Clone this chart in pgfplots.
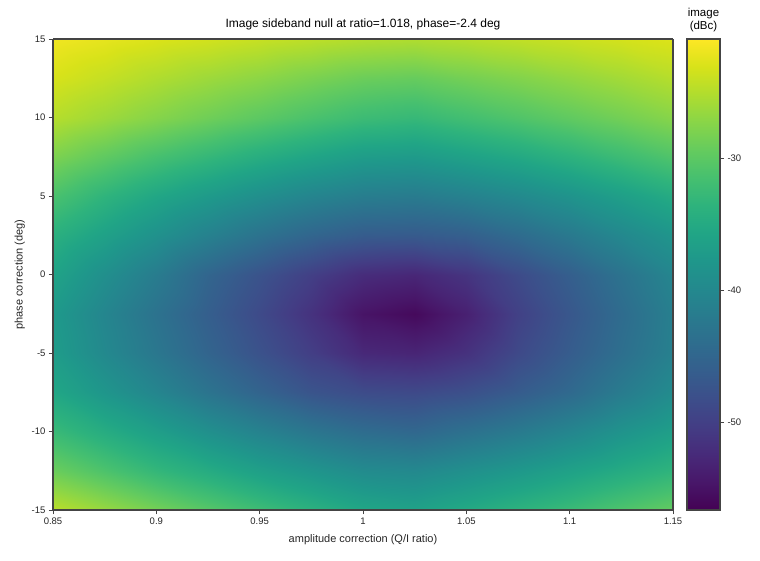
\documentclass[border=0pt]{standalone}
\usepackage{pgfplots}
\pgfplotsset{compat=1.18}
\usepackage{fontspec}
\setmainfont{Liberation Sans}
\definecolor{frame}{HTML}{444444}
\begin{document}
\begin{tikzpicture}[x=1pt,y=1pt]
\path[use as bounding box] (0,0) rectangle (760,560);
\begin{axis}[
    at={(53pt,50pt)}, anchor=south west,
    scale only axis, width=620pt, height=471pt,
    view={0}{90},
    xmin=0.85, xmax=1.15, ymin=-15, ymax=15,
    colormap/viridis,
    point meta min=-56.6, point meta max=-21,
    axis on top,
    axis line style={frame, line width=1.2pt},
    tick align=outside, tick style={frame, line width=0.8pt},
    major tick length=4pt,
    xtick pos=bottom, ytick pos=left,
    xtick={0.85,0.9,0.95,1,1.05,1.1,1.15},
    xticklabels={0.85,0.9,0.95,1,1.05,1.1,1.15},
    ytick={-15,-10,-5,0,5,10,15},
    yticklabels={-15,-10,-5,0,5,10,15},
    tick label style={font=\fontsize{9.5}{11}\selectfont, text=black!85},
    xlabel={amplitude correction (Q/I ratio)},
    xlabel style={yshift=-3.5pt},
    ylabel={phase correction (deg)},
    label style={font=\fontsize{11}{13}\selectfont, text=black!85},
    title={Image sideband null at ratio=1.018, phase=-2.4 deg},
    title style={font=\fontsize{12}{14}\selectfont, yshift=-1pt},
    colorbar,
    colorbar/width=33pt,
    colorbar style={
        at={(1.02258,1)}, anchor=north west,
        ytick={-50,-40,-30},
        yticklabels={-50,-40,-30},
        ytick pos=right,
        tick align=outside,
        major tick length=4pt,
        tick style={frame, line width=0.8pt},
        axis line style={frame, line width=1.2pt},
        title={image\\(dBc)},
        title style={align=center, font=\fontsize{11.5}{13}\selectfont, yshift=-2pt},
    },
]
\addplot3[surf, shader=interp, mesh/ordering=x varies, mesh/cols=13, mesh/rows=13] coordinates {
(0.85,-15,-24.6) (0.875,-15,-26.5) (0.9,-15,-28.4) (0.925,-15,-30.3) (0.95,-15,-32.1) (0.975,-15,-33.8) (1,-15,-35.5) (1.025,-15,-36.2) (1.05,-15,-35) (1.075,-15,-33.7) (1.1,-15,-32.4) (1.125,-15,-30.9) (1.15,-15,-29.5)

(0.85,-12.5,-29) (0.875,-12.5,-31) (0.9,-12.5,-33) (0.925,-12.5,-34.7) (0.95,-12.5,-36.5) (0.975,-12.5,-38) (1,-12.5,-39.5) (1.025,-12.5,-39.9) (1.05,-12.5,-38.8) (1.075,-12.5,-37.6) (1.1,-12.5,-36.2) (1.125,-12.5,-34.8) (1.15,-12.5,-33.4)

(0.85,-10,-32.5) (0.875,-10,-34.6) (0.9,-10,-36.6) (0.925,-10,-38.8) (0.95,-10,-40.8) (0.975,-10,-42.6) (1,-10,-44) (1.025,-10,-44.7) (1.05,-10,-43.4) (1.075,-10,-42) (1.1,-10,-40.3) (1.125,-10,-38.3) (1.15,-10,-36.6)

(0.85,-7.5,-35.5) (0.875,-7.5,-38) (0.9,-7.5,-40.4) (0.925,-7.5,-43) (0.95,-7.5,-45.3) (0.975,-7.5,-47.4) (1,-7.5,-48.5) (1.025,-7.5,-48.8) (1.05,-7.5,-48) (1.075,-7.5,-46.4) (1.1,-7.5,-44.5) (1.125,-7.5,-41.9) (1.15,-7.5,-39.5)

(0.85,-5,-37) (0.875,-5,-39.9) (0.9,-5,-42.5) (0.925,-5,-45.2) (0.95,-5,-47.7) (0.975,-5,-50.1) (1,-5,-52.6) (1.025,-5,-53) (1.05,-5,-51.6) (1.075,-5,-48.8) (1.1,-5,-46.3) (1.125,-5,-43.7) (1.15,-5,-41.1)

(0.85,-2.5,-37.4) (0.875,-2.5,-40.4) (0.9,-2.5,-43.2) (0.925,-2.5,-46) (0.95,-2.5,-48.7) (0.975,-2.5,-51.5) (1,-2.5,-54.8) (1.025,-2.5,-55.8) (1.05,-2.5,-53.5) (1.075,-2.5,-49.8) (1.1,-2.5,-47) (1.125,-2.5,-44.2) (1.15,-2.5,-41.3)

(0.85,0,-36) (0.875,0,-39) (0.9,0,-41.8) (0.925,0,-45.1) (0.95,0,-47.6) (0.975,0,-50) (1,0,-52.2) (1.025,0,-52.8) (1.05,0,-51.3) (1.075,0,-48.6) (1.1,0,-46) (1.125,0,-43.2) (1.15,0,-40.4)

(0.85,2.5,-34) (0.875,2.5,-36.3) (0.9,2.5,-38.6) (0.925,2.5,-41) (0.95,2.5,-43.2) (0.975,2.5,-45) (1,2.5,-46.3) (1.025,2.5,-46.5) (1.05,2.5,-45.9) (1.075,2.5,-44.2) (1.1,2.5,-42.2) (1.125,2.5,-40) (1.15,2.5,-38)

(0.85,5,-31.2) (0.875,5,-33.5) (0.9,5,-35.5) (0.925,5,-37.3) (0.95,5,-39) (0.975,5,-40.5) (1,5,-41.6) (1.025,5,-41.9) (1.05,5,-41) (1.075,5,-39.8) (1.1,5,-38.3) (1.125,5,-36.6) (1.15,5,-34.8)

(0.85,7.5,-28) (0.875,7.5,-29.8) (0.9,7.5,-31.5) (0.925,7.5,-33) (0.95,7.5,-34.5) (0.975,7.5,-35.8) (1,7.5,-37) (1.025,7.5,-37.3) (1.05,7.5,-36.3) (1.075,7.5,-35.2) (1.1,7.5,-33.8) (1.125,7.5,-32.3) (1.15,7.5,-30.8)

(0.85,10,-24.9) (0.875,10,-26.2) (0.9,10,-27.5) (0.925,10,-28.8) (0.95,10,-30) (0.975,10,-31.2) (1,10,-32.3) (1.025,10,-32.8) (1.05,10,-31.8) (1.075,10,-30.8) (1.1,10,-29.7) (1.125,10,-28.6) (1.15,10,-27.4)

(0.85,12.5,-23.1) (0.875,12.5,-24.1) (0.9,12.5,-25.2) (0.925,12.5,-26.2) (0.95,12.5,-27.1) (0.975,12.5,-28.1) (1,12.5,-29) (1.025,12.5,-29.3) (1.05,12.5,-28.5) (1.075,12.5,-27.7) (1.1,12.5,-26.8) (1.125,12.5,-25.9) (1.15,12.5,-24.9)

(0.85,15,-21.7) (0.875,15,-22.3) (0.9,15,-22.9) (0.925,15,-23.4) (0.95,15,-24) (0.975,15,-24.5) (1,15,-25) (1.025,15,-25.2) (1.05,15,-24.8) (1.075,15,-24.3) (1.1,15,-23.8) (1.125,15,-23.3) (1.15,15,-22.8)
};
\end{axis}
\end{tikzpicture}
\end{document}
